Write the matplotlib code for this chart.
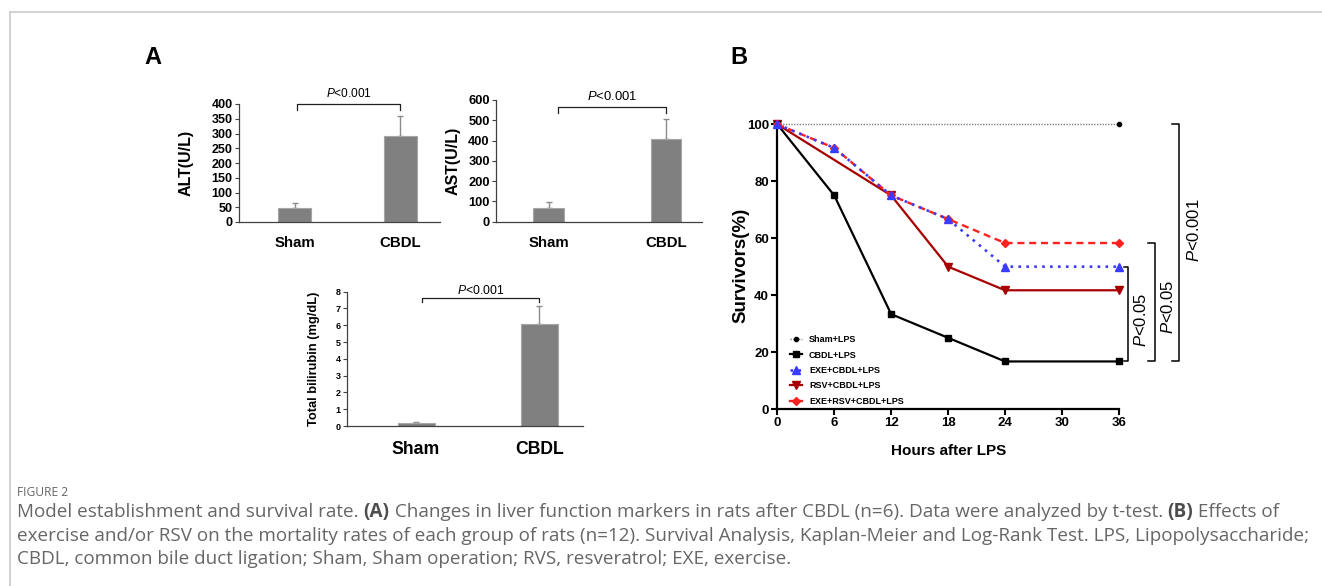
import matplotlib
matplotlib.use('Agg')
import matplotlib.pyplot as plt
from matplotlib.lines import Line2D
from matplotlib.transforms import blended_transform_factory

plt.rcParams['font.family'] = ['Liberation Sans', 'DejaVu Sans']
plt.rcParams['mathtext.fontset'] = 'custom'
plt.rcParams['mathtext.rm'] = 'Liberation Sans'
plt.rcParams['mathtext.it'] = 'Liberation Sans:italic'

# ---------------- data ----------------
categories = ['Sham', 'CBDL']
alt_mean = [47, 293]
alt_err = [19, 68]
ast_mean = [70, 408]
ast_err = [28, 96]
tbil_mean = [0.17, 6.1]
tbil_err = [0.07, 1.05]

series_labels = ['Sham+LPS', 'CBDL+LPS', 'EXE+CBDL+LPS', 'RSV+CBDL+LPS', 'EXE+RSV+CBDL+LPS']
hours_sham = [0, 36]
surv_sham = [100, 100]
hours = [0, 6, 12, 18, 24, 36]
surv_cbdl = [100, 75, 33.3, 25, 16.7, 16.7]
surv_exe = [100, 91.7, 75, 66.7, 50, 50]
hours_rsv = [0, 12, 18, 24, 36]
surv_rsv = [100, 75, 50, 41.7, 41.7]
surv_exe_rsv = [100, 91.7, 75, 66.7, 58.3, 58.3]
hour_ticks = [0, 6, 12, 18, 24, 30, 36]
surv_ticks = [0, 20, 40, 60, 80, 100]

W, H = 1322, 586
fig = plt.figure(figsize=(W / 100, H / 100), dpi=100)
fig.patch.set_facecolor('white')


def px_axes(x0, ytop, x1, ybot):
    return fig.add_axes([x0 / W, 1 - ybot / H, (x1 - x0) / W, (ybot - ytop) / H])


def bar_panel(ax, means, errs, ylim, yticks, xlim, width, ylabel, ylab_x, ylab_size,
              tick_size, cat_size, cat_pad, br, p_size):
    x = [0, 1]
    ax.bar(x, means, width=width, color='#808080', edgecolor='#a6a6a6', linewidth=0.8, zorder=2)
    ax.errorbar(x, means, yerr=[[0, 0], errs], fmt='none', ecolor='#8c8c8c',
                elinewidth=1.0, capsize=2, capthick=1.0, zorder=1)
    ax.set_xlim(*xlim)
    ax.set_ylim(*ylim)
    ax.set_yticks(yticks)
    ax.set_xticks(x)
    ax.set_xticklabels(categories, fontsize=cat_size, fontweight='bold')
    for s in ['top', 'right']:
        ax.spines[s].set_visible(False)
    for s in ['left', 'bottom']:
        ax.spines[s].set_color('#404040')
        ax.spines[s].set_linewidth(0.9)
    ax.tick_params(axis='x', length=0, pad=cat_pad)
    ax.tick_params(axis='y', length=3, width=0.8, color='#404040', pad=1.5, labelsize=tick_size)
    for lab in ax.get_yticklabels():
        lab.set_fontweight('bold')
    ax.set_ylabel(ylabel, fontsize=ylab_size, fontweight='bold')
    ax.yaxis.set_label_coords(ylab_x, 0.5)
    bx0, bx1, by, bd, ty = br
    ax.plot([bx0, bx0, bx1, bx1], [bd, by, by, bd], color='#202020', lw=0.9, clip_on=False)
    ax.text((bx0 + bx1) / 2, ty, r'$P$<0.001', ha='center', va='center', fontsize=p_size,
            clip_on=False)


# ALT
ax1 = px_axes(239, 104, 440, 222)
bar_panel(ax1, alt_mean, alt_err, (0, 400), range(0, 401, 50), (-0.524, 1.373), 0.31,
          'ALT(U/L)', -0.226, 11.5, 9, 10.8, 10, (0.02, 1.0, 400, 378, 437), 8.6)

# AST
ax2 = px_axes(496, 100, 702, 221.7)
bar_panel(ax2, ast_mean, ast_err, (0, 600), range(0, 601, 100), (-0.449, 1.307), 0.26,
          'AST(U/L)', -0.171, 11.5, 9.3, 10.8, 10, (0.08, 1.0, 567, 534, 616), 9.4)

# Bilirubin
ax3 = px_axes(347, 291.7, 583, 426)
bar_panel(ax3, tbil_mean, tbil_err, (0, 8), range(0, 9), (-0.56, 1.354), 0.3,
          'Total bilirubin (mg/dL)', -0.115, 9.3, 6.5, 12.7, 10.5, (0.05, 1.0, 7.64, 7.37, 8.06), 8.8)

fig.text(153 / W, 1 - 57 / H, 'A', fontsize=17, fontweight='bold', ha='center', va='center')
fig.text(739 / W, 1 - 57 / H, 'B', fontsize=17, fontweight='bold', ha='center', va='center')

# ---------------- survival panel ----------------
axb = px_axes(777.3, 124.3, 1119, 409)
axb.plot(hours_sham, surv_sham, color='#808080', lw=1.0, ls=(0, (1, 1)), marker='o',
         ms=3, mfc='black', mec='black', clip_on=False, zorder=3)
axb.plot(hours, surv_cbdl, color='black', lw=1.6, marker='s', ms=5, clip_on=False, zorder=4)
axb.plot(hours, surv_exe, color='#3b3bff', lw=1.9, ls=(0, (1, 2)), marker='^', ms=5.5,
         clip_on=False, zorder=5)
axb.plot(hours_rsv, surv_rsv, color='#a80000', lw=1.6, marker='v', ms=5.5, clip_on=False, zorder=3)
axb.plot(hours, surv_exe_rsv, color='#ff2020', lw=1.7, ls=(0, (3, 2)), marker='D', ms=4,
         clip_on=False, zorder=4)
axb.set_xlim(0, 36)
axb.set_ylim(0, 100)
axb.set_xticks(hour_ticks)
axb.set_yticks(surv_ticks)
for s in ['top', 'right']:
    axb.spines[s].set_visible(False)
for s in ['left', 'bottom']:
    axb.spines[s].set_linewidth(1.6)
axb.tick_params(length=4, width=1.5, labelsize=9.5, pad=2)
for lab in axb.get_xticklabels() + axb.get_yticklabels():
    lab.set_fontweight('bold')
axb.set_xlabel('Hours after LPS', fontsize=11, fontweight='bold')
axb.xaxis.set_label_coords(0.5, (409 - 444) / 284.7)
axb.set_ylabel('Survivors(%)', fontsize=13.5, fontweight='bold')
axb.yaxis.set_label_coords((749 - 777.3) / 341.7, 0.506)

handles = [
    Line2D([], [], color='#808080', lw=1.0, ls=(0, (1, 1)), marker='o', ms=3, mfc='black', mec='black'),
    Line2D([], [], color='black', lw=1.6, marker='s', ms=5),
    Line2D([], [], color='#3b3bff', lw=1.9, ls=(0, (1, 2)), marker='^', ms=5.5),
    Line2D([], [], color='#a80000', lw=1.6, marker='v', ms=5.5),
    Line2D([], [], color='#ff2020', lw=1.7, marker='D', ms=4),
]
fig.legend(handles, series_labels, loc='upper left', bbox_to_anchor=(790 / W, 1 - 335 / H),
           frameon=False, borderaxespad=0, borderpad=0, handlelength=1.3, handletextpad=0.8,
           labelspacing=0.72, prop={'size': 6.5, 'weight': 'bold'})

tr = blended_transform_factory(axb.transAxes, axb.transData)
brackets = [  # x_bar, x_tick, y_top, y_bot, text_x, text_y, label
    ((1128.3 - 777.3) / 341.7, (1124 - 777.3) / 341.7, 50, 16.7, (1141 - 777.3) / 341.7, 31.3, r'$P$<0.05'),
    ((1155 - 777.3) / 341.7, (1147.7 - 777.3) / 341.7, 58.3, 16.7, (1168 - 777.3) / 341.7, 35.9, r'$P$<0.05'),
    ((1179 - 777.3) / 341.7, (1171.7 - 777.3) / 341.7, 100, 16.7, (1194 - 777.3) / 341.7, 62.9, r'$P$<0.001'),
]
for xb, xt, yt, yb, tx, ty, lab in brackets:
    axb.plot([xt, xb, xb, xt], [yt, yt, yb, yb], color='black', lw=1.1, transform=tr, clip_on=False)
    axb.text(tx, ty, lab, transform=tr, rotation=90, ha='center', va='center', fontsize=12,
             clip_on=False)

# ---------------- frame & caption ----------------
fig.add_artist(Line2D([9.5 / W, 9.5 / W], [0, 1 - 12 / H], transform=fig.transFigure,
                      color='#cfcfcf', lw=1.3))
fig.add_artist(Line2D([9.5 / W, 1], [1 - 12 / H, 1 - 12 / H], transform=fig.transFigure,
                      color='#cfcfcf', lw=1.3))

renderer = fig.canvas.get_renderer()
CAP_FONT = 'Open Sans'
CAP_COLOR = '#666666'


def text_width(s, size, weight):
    t = fig.text(0, 0, 'a' + s + 'a', fontsize=size, fontweight=weight, family=CAP_FONT)
    w = t.get_window_extent(renderer).width
    t.remove()
    t2 = fig.text(0, 0, 'aa', fontsize=size, fontweight=weight, family=CAP_FONT)
    w2 = t2.get_window_extent(renderer).width
    t2.remove()
    return w - w2


line2 = ('exercise and/or RSV on the mortality rates of each group of rats (n=12). Survival Analysis, '
         'Kaplan-Meier and Log-Rank Test. LPS, Lipopolysaccharide;')
base = 10.0
cap_size = base * 1293 / text_width(line2, base, 'normal')

caption_lines = [
    (512, [('Model establishment and survival rate. ', 'normal'), ('(A)', 'bold'),
           (' Changes in liver function markers in rats after CBDL (n=6). Data were analyzed by t-test. ', 'normal'),
           ('(B)', 'bold'), (' Effects of', 'normal')]),
    (536, [(line2, 'normal')]),
    (559, [('CBDL, common bile duct ligation; Sham, Sham operation; RVS, resveratrol; EXE, exercise.', 'normal')]),
]
for ypx, segs in caption_lines:
    x = 17.0
    for s, wgt in segs:
        fig.text(x / W, 1 - ypx / H, s, fontsize=cap_size, fontweight=wgt, family=CAP_FONT,
                 color=CAP_COLOR if wgt == 'normal' else '#4d4d4d', ha='left', va='center')
        x += text_width(s, cap_size, wgt)

fig_size = 8.0 * 51 / text_width('FIGURE 2', 8.0, 'normal')
fig.text(17 / W, 1 - 493 / H, 'FIGURE 2', fontsize=fig_size, family=CAP_FONT, color='#666666',
         ha='left', va='center')

fig.savefig('out.png', dpi=100)
